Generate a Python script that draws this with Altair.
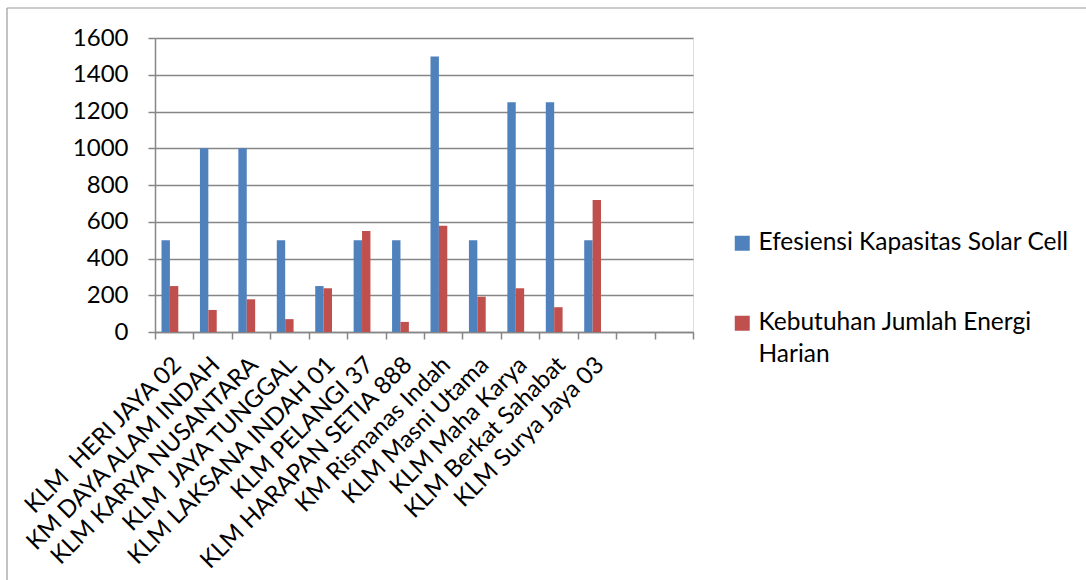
import altair as alt
import pandas as pd

categories = [
    "KLM \u00a0HERI JAYA 02",
    "KM DAYA ALAM INDAH",
    "KLM KARYA NUSANTARA",
    "KLM \u00a0JAYA TUNGGAL",
    "KLM LAKSANA INDAH 01",
    "KLM PELANGI 37",
    "KLM HARAPAN SETIA 888",
    "KM Rismanas Indah",
    "KLM Masni Utama",
    "KLM Maha Karya",
    "KLM Berkat Sahabat",
    "KLM Surya Jaya 03",
]
empty_slots = [" ", "  "]
series = ["Efesiensi Kapasitas Solar Cell", "Kebutuhan Jumlah Energi Harian"]
efesiensi = [500, 1000, 1000, 500, 250, 500, 500, 1500, 500, 1250, 1250, 500]
kebutuhan = [250, 120, 178, 70, 238, 550, 55, 578, 192, 238, 135, 718]
colors = ["#4F81BD", "#C0504D"]
y_ticks = [0, 200, 400, 600, 800, 1000, 1200, 1400, 1600]

rows = []
for c, a, b in zip(categories, efesiensi, kebutuhan):
    rows.append({"kelompok": c, "seri": series[0], "nilai": a})
    rows.append({"kelompok": c, "seri": series[1], "nilai": b})
df = pd.DataFrame(rows)

FONT = "Lato"
GRID = "#868686"

bars = alt.Chart(df).mark_bar(stroke=None).encode(
    x=alt.X(
        "kelompok:N",
        sort=None,
        scale=alt.Scale(domain=categories + empty_slots, paddingInner=0, paddingOuter=0),
        axis=alt.Axis(
            title=None,
            labelAngle=-45,
            labelAlign="right",
            labelBaseline="middle",
            labelFont=FONT,
            labelFontSize=24,
            labelColor="#000000",
            labelPadding=22,
            labelOffset=3,
            labelLimit=500,
            labelOverlap=False,
            tickBand="extent",
            tickSize=7,
            tickColor=GRID,
            tickWidth=1.5,
            domainColor=GRID,
            domainWidth=1.5,
            grid=False,
        ),
    ),
    xOffset=alt.XOffset(
        "seri:N",
        sort=series,
        scale=alt.Scale(domain=series, paddingInner=0, paddingOuter=0, range=[6.5, 23.3]),
    ),
    y=alt.Y(
        "nilai:Q",
        scale=alt.Scale(domain=[0, 1600], nice=False),
        axis=alt.Axis(
            title=None,
            values=y_ticks,
            format="d",
            labelFont=FONT,
            labelFontSize=24,
            labelColor="#000000",
            labelPadding=20,
            tickSize=7,
            tickColor=GRID,
            tickWidth=1.5,
            domainColor=GRID,
            domainWidth=1.5,
            grid=True,
            gridColor=GRID,
            gridWidth=1.5,
        ),
    ),
    color=alt.Color(
        "seri:N",
        scale=alt.Scale(domain=series, range=colors),
        legend=alt.Legend(
            title=None,
            orient="none",
            legendX=575,
            legendY=193,
            padding=0,
            symbolType="square",
            symbolSize=225,
            symbolStrokeWidth=0,
            labelFont=FONT,
            labelFontSize=24.5,
            labelColor="#000000",
            labelOffset=4,
            labelLimit=500,
            rowPadding=55,
            labelExpr="datum.label == 'Kebutuhan Jumlah Energi Harian' ? ['Kebutuhan Jumlah Energi', 'Harian'] : datum.label",
        ),
    ),
)

frame_df = pd.DataFrame({"k": [0]})
frame_top = alt.Chart(frame_df).mark_rule(color="#9a9a9a", strokeWidth=1.2).encode(
    x=alt.value(-148), x2=alt.value(931), y=alt.value(-30)
)
frame_left = alt.Chart(frame_df).mark_rule(color="#9a9a9a", strokeWidth=1.2).encode(
    x=alt.value(-148), y=alt.value(-30), y2=alt.value(542)
)

chart = alt.layer(bars, frame_top, frame_left).properties(
    width=538,
    height=294,
    autosize=alt.AutoSizeParams(type="none"),
    padding={"left": 155, "top": 38, "right": 393, "bottom": 248},
).configure_view(stroke=None).configure(
    background="white",
    style={"guide-label": {"lineHeight": 32}},
)

chart.save("out.html", embed_options={"renderer": "svg", "actions": False})
